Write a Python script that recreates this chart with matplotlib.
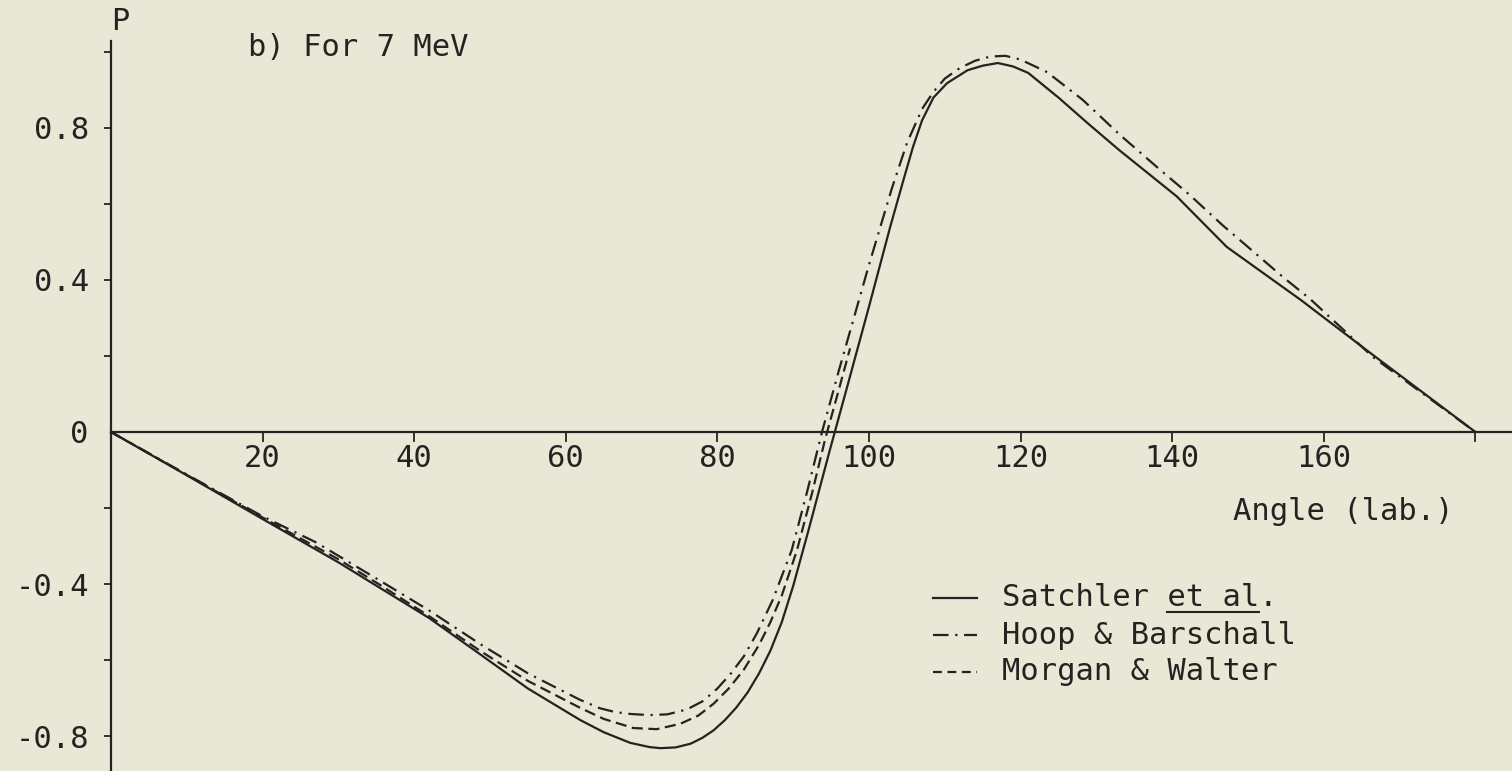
import numpy as np
import matplotlib
matplotlib.use("Agg")
import matplotlib.pyplot as plt
from matplotlib.lines import Line2D

# polarisation P against lab angle (7 MeV)
satchler_angle = [0, 10, 20, 30, 35.3, 42, 48.7, 55, 61.9, 65, 68.5, 71, 72.5, 74.5,
                  76.5, 78, 79.5, 81, 82.5, 84, 85.5, 87, 88.5, 90, 92, 94.8, 97, 100,
                  102.8, 104.5, 105.8, 107, 108.5, 110.3, 113, 115, 117, 119, 121,
                  125, 129, 133, 140.6, 147.2, 157, 166, 180]
satchler_p = [0, -0.114, -0.229, -0.343, -0.408, -0.49, -0.585, -0.675, -0.758, -0.79,
              -0.818, -0.829, -0.832, -0.83, -0.82, -0.805, -0.785, -0.758, -0.725,
              -0.685, -0.635, -0.575, -0.5, -0.405, -0.26, -0.05, 0.11, 0.33, 0.54,
              0.66, 0.75, 0.82, 0.88, 0.918, 0.952, 0.964, 0.971, 0.962, 0.945, 0.88,
              0.81, 0.742, 0.62, 0.487, 0.347, 0.21, 0]

hoop_angle = [0, 10, 20, 27, 35.3, 42, 48.7, 55, 61.9, 64.5, 66.5, 68.5, 71, 73.4,
              76, 78.1, 80, 81.8, 83.5, 85.2, 87.3, 89.8, 91.8, 93.8, 96, 98, 100, 103,
              105, 107, 108.5, 110, 112, 114, 116, 118, 120, 123.5, 128.2, 133.1, 138,
              142.3, 146.6, 154.6, 158.2, 166.5, 180]
hoop_p = [0, -0.112, -0.222, -0.29, -0.389, -0.47, -0.558, -0.635, -0.705, -0.727,
          -0.737, -0.742, -0.745, -0.743, -0.73, -0.708, -0.675, -0.635, -0.59, -0.53,
          -0.442, -0.311, -0.16, 0, 0.16, 0.3, 0.44, 0.64, 0.76, 0.85, 0.895, 0.93,
          0.958, 0.977, 0.988, 0.99, 0.98, 0.947, 0.874, 0.782, 0.697, 0.624, 0.545,
          0.408, 0.35, 0.197, 0]

morgan_angle = [0, 10, 20, 30, 35.3, 42, 48.7, 55, 61.9, 65, 68.9, 72, 75.1, 77.5,
                79.5, 81.5, 83.5, 85.5, 87, 88.5, 90.5, 92.5, 94.2, 96, 97.5]
morgan_p = [0, -0.113, -0.225, -0.335, -0.4, -0.485, -0.576, -0.655, -0.726, -0.755,
            -0.779, -0.782, -0.768, -0.746, -0.715, -0.675, -0.625, -0.56, -0.5,
            -0.43, -0.311, -0.16, -0.02, 0.11, 0.22]

legend_labels = ["Satchler et al.", "Hoop & Barschall", "Morgan & Walter"]

ytick_vals = [-0.8, -0.6, -0.4, -0.2, 0, 0.2, 0.4, 0.6, 0.8, 1.0]
ytick_text = ["-0.8", "", "-0.4", "", "0", "", "0.4", "", "0.8", ""]
xtick_vals = [20, 40, 60, 80, 100, 120, 140, 160, 180]
xtick_text = ["20", "40", "60", "80", "100", "120", "140", "160", ""]

paper = "#e9e7d5"
ink = "#232321"
font = "DejaVu Sans Mono"
fs = 22

plt.rcParams["font.family"] = font
W, H = 1512, 771
fig = plt.figure(figsize=(W / 100, H / 100), dpi=100)
fig.patch.set_facecolor(paper)
ax = fig.add_axes([0, 0, 1, 1])
ax.set_facecolor(paper)

# pixel layout of the original scan: origin at (111, 432), 7.58 px/deg, 380 px per unit P
ax.set_xlim(-111 / 7.58, (W - 111) / 7.58)
ax.set_ylim(-(H - 432) / 380, 432 / 380)

lw = 1.6
ax.plot(satchler_angle, satchler_p, color=ink, lw=lw, solid_joinstyle="round")
ax.plot(hoop_angle, hoop_p, color=ink, lw=lw, linestyle=(0, (7, 3, 1, 3)))
ax.plot(morgan_angle, morgan_p, color=ink, lw=lw, linestyle=(0, (5, 2.5)))

for s in ["top", "right"]:
    ax.spines[s].set_visible(False)
ax.spines["left"].set_position(("data", 0))
ax.spines["bottom"].set_position(("data", 0))
ax.spines["left"].set_bounds(-0.9, 1.03)
ax.spines["bottom"].set_bounds(0, 190)
for s in ["left", "bottom"]:
    ax.spines[s].set_linewidth(1.6)
    ax.spines[s].set_color(ink)

ax.set_yticks(ytick_vals)
ax.set_yticklabels(ytick_text)
ax.set_xticks(xtick_vals)
ax.set_xticklabels(xtick_text)
ax.tick_params(axis="y", direction="out", length=5, width=1.3, color=ink,
               labelsize=fs, labelcolor=ink, pad=11)
ax.tick_params(axis="x", direction="out", length=7, width=1.3, color=ink,
               labelsize=fs, labelcolor=ink, pad=2)
ax.yaxis.get_major_ticks()[4].tick1line.set_visible(False)

def fx(px):
    return px / W

def fy(py):
    return 1 - py / H

fig.text(fx(120), fy(21), "P", fontsize=fs, color=ink, ha="center", va="center")
fig.text(fx(248), fy(47), "b) For 7 MeV", fontsize=fs, color=ink, ha="left", va="center")
fig.text(fx(1233), fy(511), "Angle (lab.)", fontsize=fs, color=ink, ha="left", va="center")

# hand-drawn style key
styles = ["-", (0, (7, 3, 1, 3)), (0, (4, 2.5))]
rows = [598, 635, 672]
for lab, st, ry in zip(legend_labels, styles, rows):
    fig.add_artist(Line2D([fx(933), fx(977)], [fy(ry), fy(ry)], color=ink, lw=lw,
                          linestyle=st, transform=fig.transFigure))
    fig.text(fx(1002), fy(ry), lab, fontsize=fs, color=ink, ha="left", va="center")

# underline "et al"
fig.canvas.draw()
r = fig.canvas.get_renderer()
t0 = fig.texts[3]
bb = t0.get_window_extent(r)
cw = bb.width / len(legend_labels[0])
x0 = bb.x0 + cw * 9
x1 = bb.x0 + cw * 14
yline = bb.y0 + 1
fig.add_artist(Line2D([x0 / W, x1 / W], [yline / H, yline / H], color=ink, lw=1.5,
                      transform=fig.transFigure))

fig.savefig("out.png", dpi=100, facecolor=paper)
